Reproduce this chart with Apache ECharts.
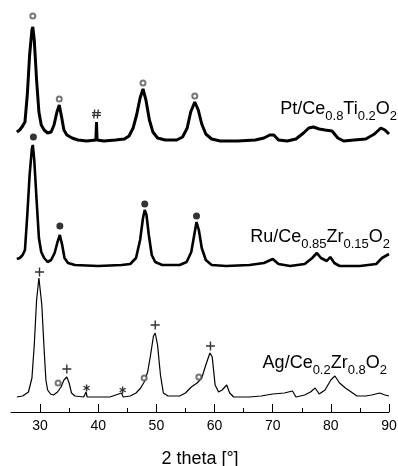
<!DOCTYPE html>
<html><head><meta charset="utf-8">
<script src="https://cdn.jsdelivr.net/npm/echarts@6/dist/echarts.min.js"></script>
<style>html,body{margin:0;padding:0;background:#fff}#c{width:398px;height:466px}</style>
</head><body><div id="c"></div>
<script>
// x tick labels (2 theta, degrees)
const tickLabels = [30, 40, 50, 60, 70, 80, 90];
const minorTickValues = [35, 45, 55, 65, 75, 85];
const xName = '2 theta [°]';

// traces: [2theta, intensity (a.u.) above own baseline]
const ptData = [[26.0,9],[26.5,11],[27.0,15],[27.4,19],[27.8,46],[28.2,86],[28.6,111],[28.75,114],[29.0,101],[29.4,61],[29.8,29],[30.2,16],[30.7,11],[31.3,8],[31.9,9],[32.4,16],[32.9,29],[33.3,36],[33.7,24],[34.1,11],[34.6,6],[35.5,3],[36.5,1],[38.0,0],[39.6,1],[39.7,19],[39.8,1],[41.0,0],[43.0,1],[44.5,2],[45.3,5],[46.0,13],[46.6,26],[47.2,43],[47.7,52],[48.2,41],[48.8,21],[49.4,9],[50.2,3],[51.5,1],[53.5,1],[54.5,4],[55.3,13],[55.9,29],[56.6,39],[57.2,31],[57.8,17],[58.5,7],[59.5,2],[61.0,0],[64.0,0],[67.0,1],[68.5,3],[69.5,6],[70.2,6],[71.0,1],[72.5,0],[74.0,2],[75.3,8],[76.2,13],[77.0,14],[78.0,12],[79.0,11],[80.2,10],[81.2,3],[82.2,0],[84.0,1],[86.0,2],[87.5,7],[88.6,13],[89.3,11],[90.0,7]];
const ruData = [[26.0,6],[26.5,7],[27.0,10],[27.4,15],[27.8,50],[28.2,90],[28.6,117],[28.75,120],[29.0,105],[29.4,65],[29.8,27],[30.2,13],[30.7,7],[31.3,3],[31.9,5],[32.5,12],[33.0,23],[33.4,30],[33.8,20],[34.2,7],[34.8,2],[36.0,0],[40.0,-1],[44.0,0],[45.5,1],[46.5,7],[47.2,25],[47.7,47],[48.0,55],[48.3,50],[48.7,30],[49.2,10],[49.8,3],[51.0,0],[54.0,0],[55.2,3],[56.0,13],[56.6,33],[56.9,43],[57.3,35],[57.8,17],[58.5,5],[59.5,0],[62.0,-1],[66.0,0],[68.5,2],[70.0,6],[71.0,1],[73.0,-1],[75.5,1],[76.8,7],[77.6,12],[78.3,7],[79.3,4],[79.9,8],[80.6,2],[81.5,-1],[85.0,-1],[87.8,1],[88.8,7],[90.0,11]];
const agData = [[26.0,0],[27.0,1],[28.0,5],[28.6,19],[29.0,52],[29.4,97],[29.8,119],[30.0,117],[30.3,92],[30.7,47],[31.0,17],[31.3,7],[31.8,3],[32.3,2],[33.0,5],[33.6,10],[34.1,17],[34.6,20],[35.0,14],[35.4,4],[36.0,1],[37.5,0],[37.9,5],[38.1,0],[40.0,0],[42.0,0],[44.0,4],[44.3,0],[45.5,1],[46.5,4],[47.3,9],[47.9,15],[48.5,25],[49.0,42],[49.5,61],[49.8,64],[50.2,52],[50.7,22],[51.2,4],[52.0,1],[54.0,1],[55.0,4],[56.0,10],[57.0,14],[57.8,19],[58.5,32],[59.2,44],[59.6,40],[60.1,12],[60.7,5],[61.3,7],[62.1,12],[62.6,4],[63.3,0],[66.0,0],[68.0,1],[70.0,3],[72.0,4],[73.4,6],[74.0,0],[75.5,2],[76.5,5],[77.3,9],[78.0,3],[79.0,7],[80.0,17],[80.7,21],[81.5,14],[82.5,9],[83.5,5],[84.5,1],[86.0,1],[87.0,2],[88.4,4],[89.3,2],[90.0,1]];

// phase markers: [2theta, intensity above own baseline]
const ptOpenMarks = [[28.75,125],[33.3,42],[47.7,58],[56.6,45]];
const ptHashMarks = [[39.7,27]];
const ruFilledMarks = [[28.85,128],[33.4,39],[48.0,61],[56.9,49]];
const agPlusMarks = [[29.9,125],[34.6,28],[49.8,72],[59.3,51]];
const agOpenMarks = [[33.1,14],[47.9,19],[57.3,20]];
const agStarMarks = [[38.0,9],[44.2,7]];

const sampleNames = [
  '{m|Pt/Ce}{s|0.8}{m|Ti}{s|0.2}{m|O}{s|2}',
  '{m|Ru/Ce}{s|0.85}{m|Zr}{s|0.15}{m|O}{s|2}',
  '{m|Ag/Ce}{s|0.2}{m|Zr}{s|0.8}{m|O}{s|2}'
];
// vertical stacking offsets of the three patterns
const offsets = { pt: 271, ru: 147, ag: 15 };

const shift = (arr, o) => arr.map(p => [p[0], p[1] + o]);
const FONT = 'Liberation Sans, Arial, sans-serif';

const chart = echarts.init(document.getElementById('c'), null, { renderer: 'canvas' });
const lineS = (data, o, w) => ({
  type: 'line', data: shift(data, o), showSymbol: false, symbol: 'none',
  lineStyle: { color: '#000', width: w }, silent: true, z: 2
});
const markS = (data, o, symbol, size, itemStyle) => ({
  type: 'scatter', data: shift(data, o), symbol, symbolSize: size, symbolKeepAspect: true,
  itemStyle, silent: true, z: 3
});
const stroke = { color: 'none', borderColor: '#000', borderWidth: 1.4 };

const rich = {
  m: { font: '18px "Liberation Sans"', fontSize: 18, fontFamily: 'Liberation Sans', fill: '#000', lineHeight: 20, verticalAlign: 'top' },
  s: { font: '13px "Liberation Sans"', fontSize: 13, fontFamily: 'Liberation Sans', fill: '#000', lineHeight: 13, padding: [10, 0, 0, 0], verticalAlign: 'top' }
};
const nameText = (text, x, y) => ({
  type: 'text', x, y, z: 10,
  style: { text, rich, align: 'right', verticalAlign: 'middle', font: '18px "Liberation Sans"', fill: '#000' }
});

chart.setOption({
  animation: false,
  backgroundColor: '#fff',
  grid: { left: 11, right: 9, top: 0, bottom: 54, outerBoundsMode: 'none', containLabel: false },
  xAxis: [{
    type: 'value', min: 25, max: 90,
    axisLine: { show: true, lineStyle: { color: '#000', width: 1 } },
    axisTick: { show: true, inside: true, length: 8, customValues: tickLabels, lineStyle: { color: '#000', width: 1 } },
    axisLabel: { show: true, customValues: tickLabels, margin: 7, color: '#000', fontSize: 14, fontFamily: FONT },
    splitLine: { show: false },
    name: xName, nameLocation: 'middle', nameGap: 38,
    nameTextStyle: { color: '#000', fontSize: 18, fontFamily: FONT }
  }, {
    type: 'value', min: 25, max: 90, position: 'bottom',
    axisLine: { show: false },
    axisTick: { show: true, inside: true, length: 4, customValues: minorTickValues, lineStyle: { color: '#000', width: 1 } },
    axisLabel: { show: false }, splitLine: { show: false }
  }],
  yAxis: { type: 'value', min: 0, max: 412, show: false },
  series: [
    lineS(ptData, offsets.pt, 3.0),
    lineS(ruData, offsets.ru, 2.6),
    lineS(agData, offsets.ag, 1.2),
    markS(ptOpenMarks, offsets.pt, 'emptyCircle', 5, { color: '#555', borderColor: '#555', borderWidth: 1 }),
    markS(ptHashMarks, offsets.pt, 'path://M3,0L2,10M7,0L6,10M0,3.5H10M0,6.5H10', 9, stroke),
    markS(ruFilledMarks, offsets.ru, 'circle', 7, { color: '#000' }),
    markS(agPlusMarks, offsets.ag, 'path://M0,5H10M5,0V10', 9, stroke),
    markS(agOpenMarks, offsets.ag, 'emptyCircle', 5, { color: '#555', borderColor: '#555', borderWidth: 1 }),
    markS(agStarMarks, offsets.ag, 'path://M5,0V10M0.7,2.5L9.3,7.5M0.7,7.5L9.3,2.5', 7, stroke)
  ],
  graphic: [
    nameText(sampleNames[0], 397, 110),
    nameText(sampleNames[1], 390, 238),
    nameText(sampleNames[2], 387, 364)
  ]
});
</script>
</body></html>
